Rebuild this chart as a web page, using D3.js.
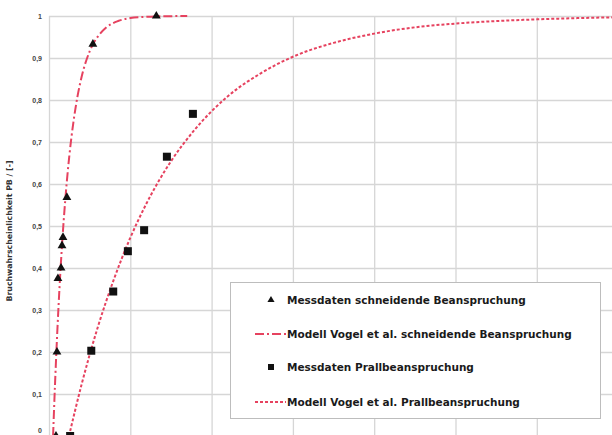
<!DOCTYPE html>
<html>
<head>
<meta charset="utf-8">
<script src="https://cdn.jsdelivr.net/npm/d3@7"></script>
<style>
  html, body { margin: 0; padding: 0; background: #fff; }
  svg { display: block; }
</style>
</head>
<body>
<svg id="chart" width="612" height="435"></svg>
<script>
// Measured breakage probability, cutting load
const cutX = [0.86, 0.98, 1.1, 1.48, 1.6, 1.72, 2.2, 5.4, 13.2];
const cutP = [0, 0.2, 0.375, 0.40, 0.453, 0.473, 0.568, 0.933, 1.0];

// Measured breakage probability, impact load
const impX = [2.6, 5.2, 7.9, 9.7, 11.7, 14.5, 17.7];
const impP = [0, 0.203, 0.344, 0.44, 0.49, 0.665, 0.767];

// Vogel et al. model curve, cutting load
const cutModelX = [0.5, 0.75, 1.0, 1.3, 1.6, 2.0, 2.5, 3.0, 3.5, 4.0, 5.0, 6.0, 7.0, 8.5, 10, 12, 14, 17];
const cutModelP = [0, 0.128, 0.240, 0.356, 0.454, 0.562, 0.667, 0.747, 0.808, 0.854, 0.916, 0.951, 0.972, 0.988, 0.995, 0.998, 0.9994, 0.9999];

// Vogel et al. model curve, impact load
const impModelX = [2.46, 4, 6, 8, 10, 12, 15, 18, 22, 26, 30, 35, 40, 45, 50, 55, 60, 65, 70];
const impModelP = [0, 0.122, 0.259, 0.374, 0.472, 0.554, 0.654, 0.731, 0.809, 0.863, 0.903, 0.936, 0.958, 0.973, 0.982, 0.988, 0.992, 0.995, 0.997];

const yTicks = [0, 0.1, 0.2, 0.3, 0.4, 0.5, 0.6, 0.7, 0.8, 0.9, 1];
const xGrid = [0, 10, 20, 30, 40, 50, 60, 70];

const legendLabels = [
  "Messdaten schneidende Beanspruchung",
  "Modell Vogel et al. schneidende Beanspruchung",
  "Messdaten Prallbeanspruchung",
  "Modell Vogel et al. Prallbeanspruchung"
];
const yTitle = "Bruchwahrscheinlichkeit PB / [-]";

const red = "#e6425f";
const svg = d3.select("#chart");

const plotLeft = 49, plotTop = 16, plotBottom = 436;
const x = d3.scaleLinear().domain([0, 70]).range([plotLeft, plotLeft + 70 * 8.13]);
const y = d3.scaleLinear().domain([0, 1]).range([plotBottom, plotTop]);

const comma = d3.formatLocale({decimal: ",", thousands: ".", grouping: [3], currency: ["", ""]}).format(".1~f");

// vertical grid
svg.append("g")
  .attr("transform", `translate(0,${plotBottom})`)
  .call(d3.axisBottom(x).tickValues(xGrid).tickSize(-(plotBottom - plotTop)).tickFormat(""))
  .call(g => g.select(".domain").remove())
  .call(g => g.selectAll("line").attr("stroke", "#d6d6d6").attr("stroke-width", 1.3));

// horizontal grid
svg.append("g")
  .attr("transform", `translate(${plotLeft},0)`)
  .call(d3.axisLeft(y).tickValues(yTicks).tickSize(-(612 - plotLeft)).tickFormat(""))
  .call(g => g.select(".domain").remove())
  .call(g => g.selectAll("line").attr("stroke", "#d6d6d6").attr("stroke-width", 1.3));

// y tick labels (the zero label is lifted so it stays inside the frame)
svg.append("g")
  .attr("transform", `translate(${plotLeft},0)`)
  .call(d3.axisLeft(y).tickValues(yTicks).tickSize(0).tickPadding(7).tickFormat(comma))
  .call(g => g.select(".domain").remove())
  .call(g => g.selectAll("text")
    .attr("font-family", "'Liberation Sans', Arial, sans-serif")
    .attr("font-size", 7)
    .attr("font-weight", "bold")
    .attr("fill", "#444")
    .attr("dy", d => d === 0 ? "-0.45em" : "0.32em"));

// y title
svg.append("text")
  .attr("transform", `translate(12,231) rotate(-90)`)
  .attr("text-anchor", "middle")
  .attr("font-family", "'DejaVu Sans', sans-serif")
  .attr("font-size", 7.8)
  .attr("font-weight", "bold")
  .attr("fill", "#333")
  .text(yTitle);

const line = d3.line().x(d => x(d[0])).y(d => y(d[1])).curve(d3.curveMonotoneX);

svg.append("path")
  .datum(cutModelX.map((v, i) => [v, cutModelP[i]]))
  .attr("d", line)
  .attr("fill", "none")
  .attr("stroke", red)
  .attr("stroke-width", 2)
  .attr("stroke-dasharray", "9,3,2,3");

svg.append("path")
  .datum(impModelX.map((v, i) => [v, impModelP[i]]))
  .attr("d", line)
  .attr("fill", "none")
  .attr("stroke", red)
  .attr("stroke-width", 2)
  .attr("stroke-dasharray", "3,2");

const tri = d3.symbol().type(d3.symbolTriangle).size(34);
svg.append("g").selectAll("path")
  .data(cutX.map((v, i) => [v, cutP[i]]))
  .join("path")
  .attr("d", tri)
  .attr("transform", d => `translate(${x(d[0])},${y(d[1])})`)
  .attr("fill", "#111");

svg.append("g").selectAll("rect")
  .data(impX.map((v, i) => [v, impP[i]]))
  .join("rect")
  .attr("x", d => x(d[0]) - 4)
  .attr("y", d => y(d[1]) - 4)
  .attr("width", 8)
  .attr("height", 8)
  .attr("fill", "#111");

// legend
const lg = svg.append("g");
lg.append("rect")
  .attr("x", 230.5).attr("y", 282.5).attr("width", 370).attr("height", 136)
  .attr("fill", "#fff").attr("stroke", "#bdbdbd").attr("stroke-width", 1);

const rowY = [300, 334, 367, 402];
const textX = 287;

lg.append("path").attr("d", d3.symbol().type(d3.symbolTriangle).size(22))
  .attr("transform", `translate(271,${rowY[0]})`).attr("fill", "#111");
lg.append("line").attr("x1", 255).attr("x2", 286).attr("y1", rowY[1]).attr("y2", rowY[1])
  .attr("stroke", red).attr("stroke-width", 2).attr("stroke-dasharray", "9,3,2,3");
lg.append("rect").attr("x", 268).attr("y", rowY[2] - 3).attr("width", 6).attr("height", 6).attr("fill", "#111");
lg.append("line").attr("x1", 255).attr("x2", 286).attr("y1", rowY[3]).attr("y2", rowY[3])
  .attr("stroke", red).attr("stroke-width", 2).attr("stroke-dasharray", "3,2");

lg.selectAll("text.lab")
  .data(legendLabels)
  .join("text")
  .attr("class", "lab")
  .attr("x", textX)
  .attr("y", (d, i) => rowY[i])
  .attr("dy", "0.35em")
  .attr("font-family", "'DejaVu Sans', sans-serif")
  .attr("font-size", 10.5)
  .attr("font-weight", "bold")
  .attr("fill", "#1a1a1a")
  .text(d => d);
</script>
</body>
</html>
